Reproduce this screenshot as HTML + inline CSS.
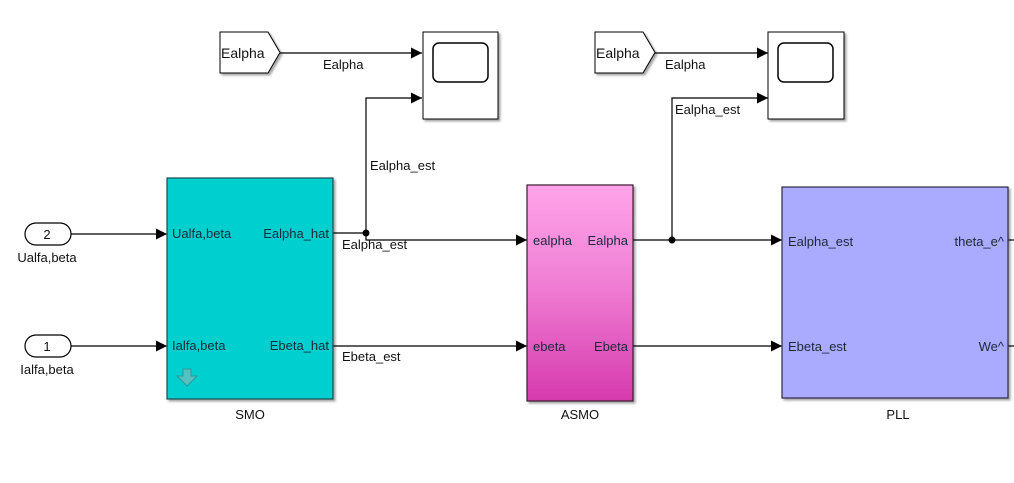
<!DOCTYPE html>
<html><head><meta charset="utf-8"><style>
html,body{margin:0;padding:0;background:#fff;}
svg{display:block;font-family:"Liberation Sans",Arial,sans-serif;}
text{font-size:13px;fill:#111;}
.in{fill:#1a2a3a}
</style></head><body>
<svg width="1014" height="483" viewBox="0 0 1014 483">
<defs>
<marker id="a" viewBox="0 0 10 10" refX="10" refY="5" markerWidth="11" markerHeight="11" markerUnits="userSpaceOnUse" orient="auto"><path d="M0,0L10,5L0,10z" fill="#000"/></marker>
<linearGradient id="pk" x1="0" y1="0" x2="0" y2="1"><stop offset="0" stop-color="#ffa4ea"/><stop offset="0.45" stop-color="#f07fd4"/><stop offset="1" stop-color="#d63aae"/></linearGradient>
<filter id="sh" x="-5%" y="-5%" width="115%" height="115%"><feDropShadow dx="2" dy="2" stdDeviation="1" flood-color="#000" flood-opacity="0.35"/></filter>
</defs>
<g stroke="#000" stroke-width="1.2" fill="none">
<rect x="25" y="223" width="46" height="22" rx="11" fill="#fff"/>
<rect x="25" y="335" width="46" height="22" rx="11" fill="#fff"/>
<line x1="71" y1="234" x2="167" y2="234" marker-end="url(#a)"/>
<line x1="71" y1="346" x2="167" y2="346" marker-end="url(#a)"/>
<polyline points="333,233 366,233 366,240 527,240" marker-end="url(#a)"/>
<polyline points="366,233 366,98 422,98" marker-end="url(#a)"/>
<line x1="333" y1="346" x2="527" y2="346" marker-end="url(#a)"/>
<line x1="280" y1="53" x2="422" y2="53" marker-end="url(#a)"/>
<line x1="655" y1="53" x2="768" y2="53" marker-end="url(#a)"/>
<line x1="633" y1="240" x2="782" y2="240" marker-end="url(#a)"/>
<polyline points="672,240 672,98 768,98" marker-end="url(#a)"/>
<line x1="633" y1="346" x2="782" y2="346" marker-end="url(#a)"/>
<line x1="1008" y1="240" x2="1014" y2="240"/>
<line x1="1008" y1="346" x2="1014" y2="346"/>
</g>
<circle cx="366" cy="233" r="3.5"/>
<circle cx="672" cy="240" r="3.5"/>
<path d="M220,32 L268,32 L280,52.5 L268,73 L220,73Z" fill="#fff" stroke="#000" stroke-width="1" filter="url(#sh)"/>
<path d="M595,32 L643,32 L655,52.5 L643,73 L595,73Z" fill="#fff" stroke="#000" stroke-width="1" filter="url(#sh)"/>
<text x="221" y="58" font-size="14" style="font-size:14px">Ealpha</text>
<text x="596" y="58" style="font-size:14px">Ealpha</text>
<rect x="423" y="32" width="75" height="87" fill="#fff" stroke="#000" stroke-width="1" filter="url(#sh)"/>
<rect x="433" y="43" width="55" height="39" rx="6" fill="#fff" stroke="#000" stroke-width="1.5"/>
<rect x="768" y="32" width="76" height="87" fill="#fff" stroke="#000" stroke-width="1" filter="url(#sh)"/>
<rect x="778" y="43" width="55" height="39" rx="6" fill="#fff" stroke="#000" stroke-width="1.5"/>
<rect x="167" y="178" width="166" height="221" fill="#00cfcf" stroke="#1e4a4a" stroke-width="1.2" filter="url(#sh)"/>
<path d="M177,376 h6 v-7 h8 v7 h6 l-10,10z" fill="#55c0c0" stroke="#2b9a9a" stroke-width="1"/>
<rect x="527" y="185" width="106" height="216" fill="url(#pk)" stroke="#3a1a30" stroke-width="1.2" filter="url(#sh)"/>
<rect x="782" y="187" width="226" height="211" fill="#aaaaff" stroke="#2a2a44" stroke-width="1.2" filter="url(#sh)"/>
<text x="47" y="239" text-anchor="middle">2</text>
<text x="47" y="351" text-anchor="middle">1</text>
<text x="47" y="262" text-anchor="middle">Ualfa,beta</text>
<text x="47" y="374" text-anchor="middle">Ialfa,beta</text>
<text class="in" x="172" y="238">Ualfa,beta</text>
<text class="in" x="172" y="350">Ialfa,beta</text>
<text class="in" x="329" y="238" text-anchor="end">Ealpha_hat</text>
<text class="in" x="329" y="350" text-anchor="end">Ebeta_hat</text>
<text x="250" y="419" text-anchor="middle">SMO</text>
<text class="in" x="533" y="245">ealpha</text>
<text class="in" x="533" y="351">ebeta</text>
<text class="in" x="628" y="245" text-anchor="end">Ealpha</text>
<text class="in" x="628" y="351" text-anchor="end">Ebeta</text>
<text x="580" y="419" text-anchor="middle">ASMO</text>
<text class="in" x="788" y="246">Ealpha_est</text>
<text class="in" x="788" y="351">Ebeta_est</text>
<text class="in" x="1004" y="246" text-anchor="end">theta_e^</text>
<text class="in" x="1004" y="351" text-anchor="end">We^</text>
<text x="898" y="419" text-anchor="middle">PLL</text>
<text x="323" y="69">Ealpha</text>
<text x="665" y="69">Ealpha</text>
<text x="370" y="170">Ealpha_est</text>
<text x="342" y="249">Ealpha_est</text>
<text x="342" y="361">Ebeta_est</text>
<text x="675" y="114">Ealpha_est</text>
</svg>
</body></html>
